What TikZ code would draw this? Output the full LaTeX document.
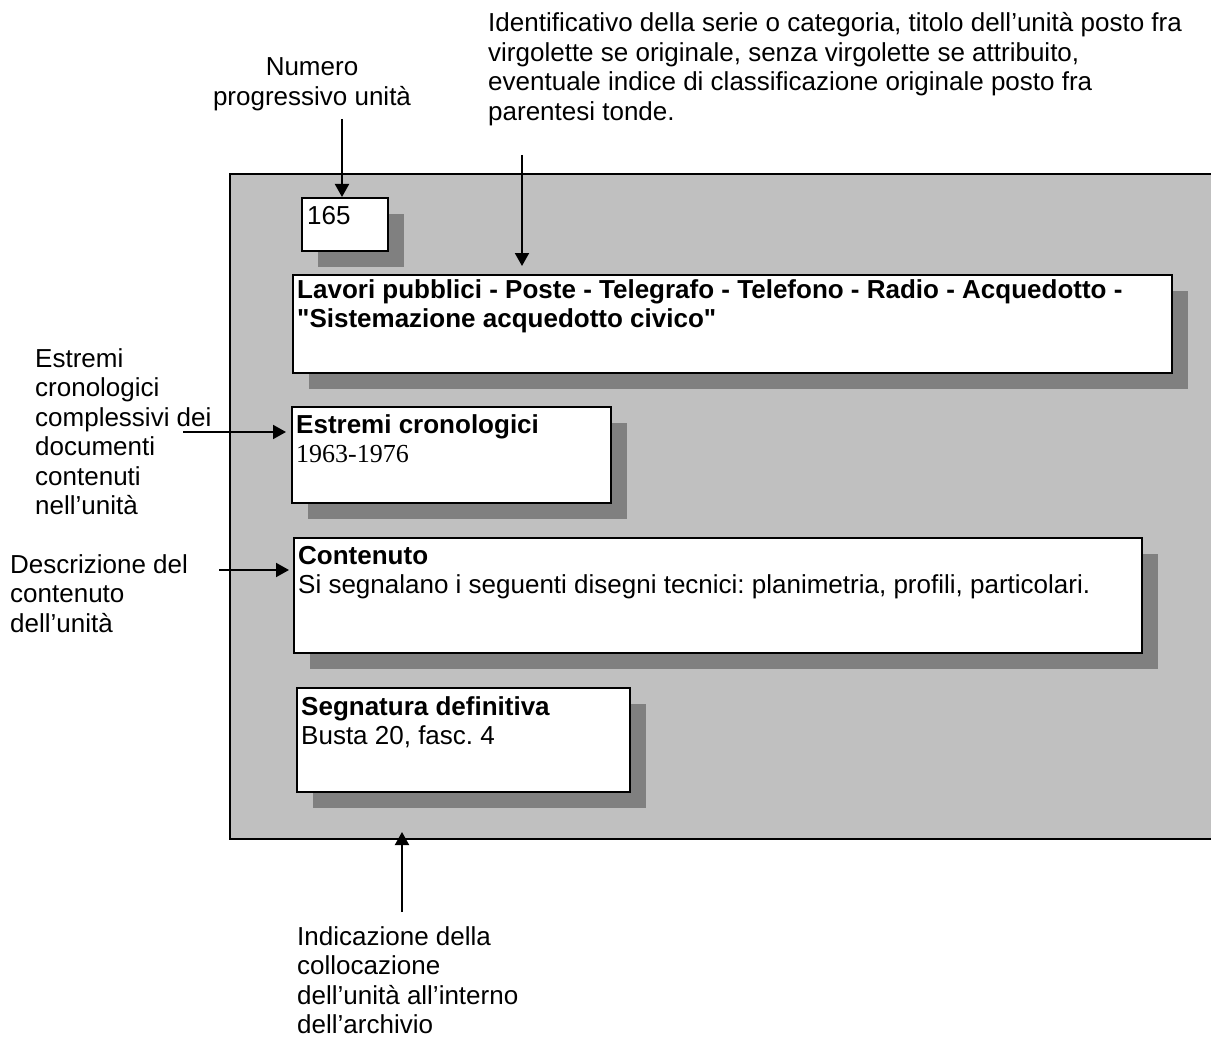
\documentclass[tikz,border=0pt]{standalone}
\usepackage{fontspec}
\setmainfont{Liberation Sans}[Ligatures=TeXOff]
\newfontfamily\timesfont{Liberation Serif}
\usetikzlibrary{arrows.meta,shadows}
\definecolor{panelgray}{RGB}{192,192,192}
\definecolor{shadowgray}{RGB}{128,128,128}
\frenchspacing
\begin{document}
\begin{tikzpicture}[x=1pt,y=-1pt,
  box/.style={draw=black, line width=2pt, fill=white, anchor=north west, inner sep=0pt,
    general shadow={fill=shadowgray, draw=none, shadow xshift=16pt, shadow yshift=-16pt}},
  lbl/.style={anchor=base west, align=left, inner sep=0pt, font=\fontsize{26}{29.5}\selectfont\frenchspacing},
  arr/.style={-{Triangle[width=14pt,length=13pt]}, line width=2pt},
]
\useasboundingbox (0,0) rectangle (1211,1038);
% panel
\fill[panelgray] (230,174) rectangle (1211,839);
\draw[line width=1.6pt] (1212,174) -- (230,174) -- (230,839) -- (1212,839);
% boxes
\node[box, minimum width=86pt, minimum height=53pt] (num) at (301,197) {};
\node[box, minimum width=879pt, minimum height=98pt] (title) at (292,274) {};
\node[box, minimum width=319pt, minimum height=96pt] (estr) at (291,406) {};
\node[box, minimum width=848pt, minimum height=115pt] (cont) at (293,537) {};
\node[box, minimum width=333pt, minimum height=104pt] (segn) at (296,687) {};
% box texts (y = baseline of the last line)
\node[lbl] (t165) at (307,225) {165};
\node[lbl] (ttitle) at (297,327.5) {\textbf{Lavori pubblici - Poste - Telegrafo - Telefono - Radio - Acquedotto -}\\\textbf{"Sistemazione acquedotto civico"}};
\node[lbl] (testr) at (296,462.5) {\textbf{Estremi cronologici}\\{\timesfont 1963-1976}};
\node[lbl] (tcont) at (298,593.5) {\textbf{Contenuto}\\Si segnalano i seguenti disegni tecnici: planimetria, profili, particolari.};
\node[lbl] (tsegn) at (301,744.5) {\textbf{Segnatura definitiva}\\Busta 20, fasc. 4};
% outside labels
\node[lbl, anchor=base, align=center] (lnum) at (312,105.5) {Numero\\progressivo unità};
\node[lbl] (lid) at (488,120.5) {Identificativo della serie o categoria, titolo dell’unità posto fra\\virgolette se originale, senza virgolette se attribuito,\\eventuale indice di classificazione originale posto fra\\parentesi tonde.};
\node[lbl] (lestr) at (35,514.5) {Estremi\\cronologici\\complessivi dei\\documenti\\contenuti\\nell’unità};
\node[lbl] (ldesc) at (10,632) {Descrizione del\\contenuto\\dell’unità};
\node[lbl] (lind) at (297,1033.5) {Indicazione della\\collocazione\\dell’unità all’interno\\dell’archivio};
% arrows
\coordinate (a1) at (342,119);
\coordinate (a2) at (522,155);
\coordinate (a3) at (183,432);
\coordinate (a4) at (219,570);
\coordinate (b0) at (402,912);
\coordinate (b1) at (402,832);
\draw[arr] (a1) -- (a1 |- num.north);
\draw[arr, shorten >=8pt] (a2) -- (a2 |- title.north);
\draw[arr, shorten >=5pt] (a3) -- (a3 -| estr.west);
\draw[arr, shorten >=4pt] (a4) -- (a4 -| cont.west);
\draw[arr] (b0) -- (b1);
\end{tikzpicture}
\end{document}
